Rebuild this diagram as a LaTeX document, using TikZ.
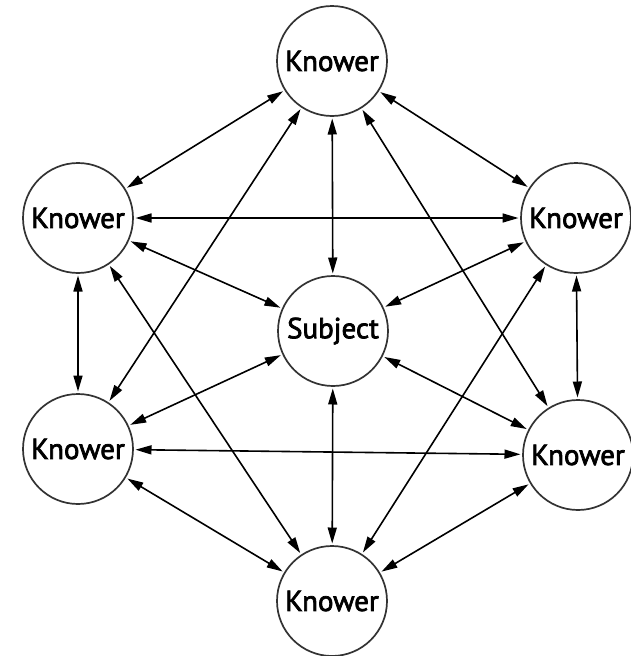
\documentclass[tikz,border=0pt]{standalone}
\usepackage{fontspec}
\setmainfont{PT Sans}
\newfontfamily\kfont{PT Sans}[UprightFeatures={FakeBold=2.5}]
\usetikzlibrary{arrows.meta}
\begin{document}
\begin{tikzpicture}[x=1pt,y=-1pt,
  agent/.style={circle,draw=black!80,line width=1.7pt,minimum size=110pt,inner sep=0pt,outer sep=2.5pt,font=\kfont\fontsize{29}{32}\selectfont,fill=white},
  link/.style={line width=1.6pt,{Triangle[length=16pt,width=9pt]}-{Triangle[length=16pt,width=9pt]}}]
\useasboundingbox (0,0) rectangle (631,656);
\node[agent] (T) at (332,61) {Knower};
\node[agent] (UL) at (78,218) {Knower};
\node[agent] (UR) at (576,218) {Knower};
\node[agent] (C) at (333,331) {Subject};
\node[agent] (LL) at (78,449) {Knower};
\node[agent] (LR) at (578,455) {Knower};
\node[agent] (B) at (332,601) {Knower};
% perimeter
\draw[link] (T) -- (UL);
\draw[link] (T) -- (UR);
\draw[link] (UL) -- (LL);
\draw[link] (UR) -- (LR);
\draw[link] (LL) -- (B);
\draw[link] (LR) -- (B);
% spokes
\draw[link] (C) -- (T);
\draw[link] (C) -- (UL);
\draw[link] (C) -- (UR);
\draw[link] (C) -- (LL);
\draw[link] (C) -- (LR);
\draw[link] (C) -- (B);
% chords
\draw[link] (T) -- (LL);
\draw[link] (T) -- (LR);
\draw[link] (UL) -- (UR);
\draw[link] (UL) -- (B);
\draw[link] (UR) -- (B);
\draw[link] (LL) -- (LR);
\end{tikzpicture}
\end{document}
